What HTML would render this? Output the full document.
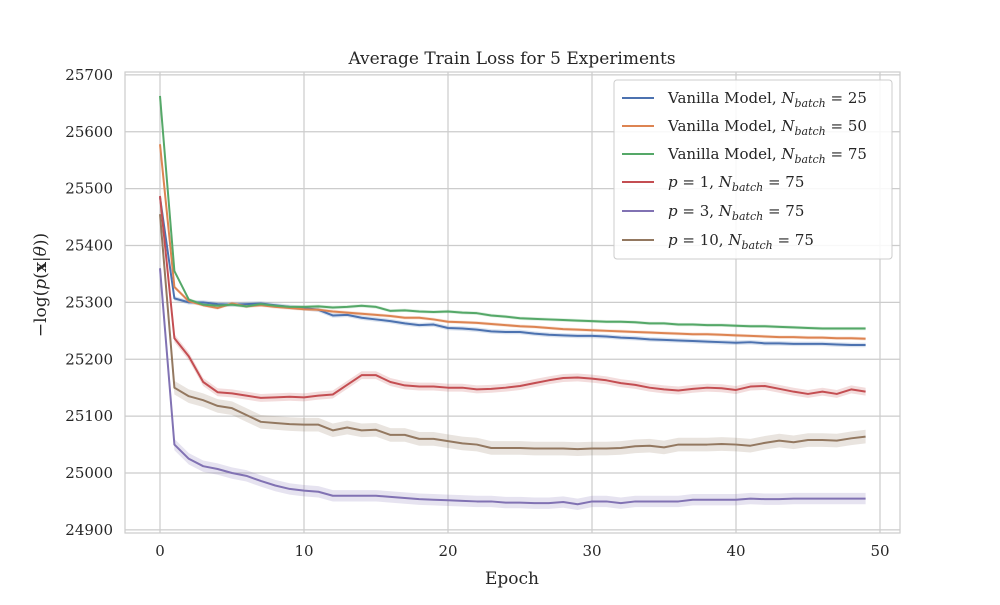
<!DOCTYPE html>
<html><head><meta charset="utf-8">
<style>
body{margin:0;background:#fff;}
svg text{font-family:"DejaVu Serif","Liberation Serif",serif;fill:#262626;}
</style></head>
<body>
<svg id="chart" width="1000" height="600" xmlns="http://www.w3.org/2000/svg">
<rect width="1000" height="600" fill="#fff"/>
<text x="512" y="64" font-size="17" text-anchor="middle">Average Train Loss for 5 Experiments</text>
<g id="grid"></g>
<g id="series"></g>
<rect x="125" y="72" width="775" height="461" fill="none" stroke="#cccccc" stroke-width="1.2"/>
<g id="ticks"></g>
<text x="512" y="584" font-size="17" text-anchor="middle">Epoch</text>
<text transform="translate(46,285) rotate(-90)" font-size="17" text-anchor="middle">−log(<tspan font-style="italic">p</tspan>(<tspan font-weight="bold">x</tspan>|<tspan font-style="italic">θ</tspan>))</text>
<g id="legend"></g>
</svg>
<script>
const xTicks=[0,10,20,30,40,50];
const yTicks=[24900,25000,25100,25200,25300,25400,25500,25600,25700];
const seriesNames=["vanilla-25","vanilla-50","vanilla-75","p1-75","p3-75","p10-75"];
const colors=["#4c72b0","#dd8452","#55a868","#c44e52","#8172b3","#937860"];
const blue=[25485,25307,25300,25300,25297,25296,25297,25298,25295,25292,25290,25287,25277,25278,25273,25270,25267,25263,25260,25261,25255,25254,25252,25249,25248,25248,25245,25243,25242,25241,25241,25240,25238,25237,25235,25234,25233,25232,25231,25230,25229,25230,25228,25228,25227,25227,25227,25226,25225,25225];
const orange=[25578,25327,25302,25295,25290,25298,25293,25295,25292,25290,25288,25287,25284,25282,25280,25278,25276,25273,25273,25270,25266,25265,25264,25262,25260,25258,25257,25255,25253,25252,25251,25250,25249,25248,25247,25246,25245,25244,25244,25243,25242,25241,25240,25239,25239,25238,25238,25237,25237,25236];
const green=[25663,25355,25305,25296,25294,25296,25293,25297,25294,25292,25292,25293,25291,25292,25294,25292,25285,25286,25284,25283,25284,25282,25281,25277,25275,25272,25271,25270,25269,25268,25267,25266,25266,25265,25263,25263,25261,25261,25260,25260,25259,25258,25258,25257,25256,25255,25254,25254,25254,25254];
const red=[25487,25237,25205,25160,25142,25140,25136,25132,25133,25134,25133,25136,25138,25155,25172,25172,25160,25154,25152,25152,25150,25150,25147,25148,25150,25153,25158,25163,25167,25168,25166,25163,25158,25155,25150,25147,25145,25148,25150,25149,25146,25152,25153,25148,25143,25139,25143,25139,25147,25143];
const purple=[25360,25050,25025,25012,25007,25000,24995,24986,24978,24972,24969,24967,24960,24960,24960,24960,24958,24956,24954,24953,24952,24951,24950,24950,24948,24948,24947,24947,24949,24945,24950,24950,24947,24950,24950,24950,24950,24953,24953,24953,24953,24955,24954,24954,24955,24955,24955,24955,24955,24955];
const brown=[25455,25150,25135,25128,25118,25114,25102,25090,25088,25086,25085,25085,25075,25080,25075,25076,25067,25067,25060,25060,25056,25052,25050,25044,25044,25044,25043,25043,25043,25042,25043,25043,25044,25047,25048,25045,25050,25050,25050,25051,25050,25048,25053,25057,25054,25058,25058,25057,25061,25064];
const bandHalf=[4,3,3,7,10,12];
const NS="http://www.w3.org/2000/svg";
const X=v=>160+v*14.4;
const Y=v=>473-(v-25000)*0.56875;
function mk(tag,attrs,parent){const e=document.createElementNS(NS,tag);for(const k in attrs)e.setAttribute(k,attrs[k]);parent.appendChild(e);return e;}
const grid=document.getElementById('grid'),ticks=document.getElementById('ticks');
xTicks.forEach(t=>{
 const l=mk('line',{x1:X(t),x2:X(t),y1:72,y2:533,stroke:'#cccccc','stroke-width':1.2},grid);
 
 
 const tx=mk('text',{x:X(t),y:556,'font-size':15,'text-anchor':'middle'},ticks);tx.textContent=t;
 
 
});
yTicks.forEach(t=>{
 const l=mk('line',{x1:125,x2:900,y1:Y(t),y2:Y(t),stroke:'#cccccc','stroke-width':1.2},grid);
 
 
 const tx=mk('text',{x:113,y:Y(t)+5,'font-size':15,'text-anchor':'end'},ticks);tx.textContent=t;
 
 
});
const data=[blue,orange,green,red,purple,brown];
const sg=document.getElementById('series');
data.forEach((d,i)=>{
 const up=d.map((v,k)=>X(k)+','+Y(v+bandHalf[i]));
 const dn=d.map((v,k)=>X(k)+','+Y(v-bandHalf[i])).reverse();
 const b=mk('polygon',{points:up.concat(dn).join(' '),fill:colors[i],'fill-opacity':0.2,stroke:'none'},sg);
 
 
});
data.forEach((d,i)=>{
 const p=mk('polyline',{points:d.map((v,k)=>X(k)+','+Y(v)).join(' '),fill:'none',stroke:colors[i],'stroke-width':2,'stroke-linejoin':'round'},sg);
 
 
});
const lg=document.getElementById('legend');
const box=mk('rect',{x:614,y:80,width:278,height:179,rx:3,fill:'#fff','fill-opacity':0.85,stroke:'#cccccc'},lg);


const labels=[
 '<tspan>Vanilla Model, </tspan><tspan font-style="italic">N</tspan><tspan font-size="11" dy="4" font-style="italic">batch</tspan><tspan dy="-4"> = 25</tspan>',
 '<tspan>Vanilla Model, </tspan><tspan font-style="italic">N</tspan><tspan font-size="11" dy="4" font-style="italic">batch</tspan><tspan dy="-4"> = 50</tspan>',
 '<tspan>Vanilla Model, </tspan><tspan font-style="italic">N</tspan><tspan font-size="11" dy="4" font-style="italic">batch</tspan><tspan dy="-4"> = 75</tspan>',
 '<tspan font-style="italic">p</tspan><tspan> = 1, </tspan><tspan font-style="italic">N</tspan><tspan font-size="11" dy="4" font-style="italic">batch</tspan><tspan dy="-4"> = 75</tspan>',
 '<tspan font-style="italic">p</tspan><tspan> = 3, </tspan><tspan font-style="italic">N</tspan><tspan font-size="11" dy="4" font-style="italic">batch</tspan><tspan dy="-4"> = 75</tspan>',
 '<tspan font-style="italic">p</tspan><tspan> = 10, </tspan><tspan font-style="italic">N</tspan><tspan font-size="11" dy="4" font-style="italic">batch</tspan><tspan dy="-4"> = 75</tspan>'];
const ly=[98,126,154,182,211,240];
labels.forEach((s,i)=>{
 const g=mk('g',{},lg);
 
 
 mk('line',{x1:622,x2:654,y1:ly[i],y2:ly[i],stroke:colors[i],'stroke-width':2},g);
 const t=mk('text',{x:668,y:ly[i]+5,'font-size':15},g);t.innerHTML=s;
});
</script>
</body></html>
